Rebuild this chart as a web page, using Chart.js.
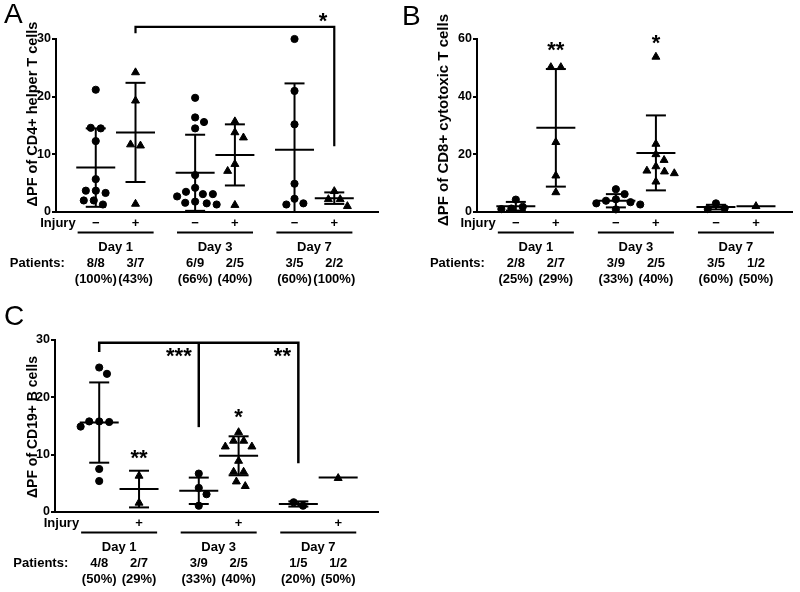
<!DOCTYPE html>
<html><head><meta charset="utf-8">
<script src="https://cdn.jsdelivr.net/npm/chart.js@4.4.1/dist/chart.umd.min.js"></script>
<style>
html,body{margin:0;padding:0;background:#fff;}
#wrap{position:relative;width:800px;height:592px;overflow:hidden;background:#fff;}
canvas{position:absolute;}
</style></head><body>
<div id="wrap">
<canvas id="cA" width="400" height="300" style="left:0;top:0;width:400px;height:300px"></canvas>
<canvas id="cB" width="400" height="300" style="left:400px;top:0;width:400px;height:300px"></canvas>
<canvas id="cC" width="400" height="292" style="left:0;top:300px;width:400px;height:292px"></canvas>
</div>
<script>
// ---------- categories ----------
const days = ['Day 1', 'Day 3', 'Day 7'];
const injurySigns = ['−', '+'];

// ---------- Panel A: CD4+ helper T cells ----------
const cd4Title = 'ΔPF of CD4+ helper T cells';
const cd4Ticks = [0, 10, 20, 30];
const cd4Day1Neg = [21.2, 14.6, 14.5, 12.3, 5.7, 3.7, 3.7, 3.3, 2.0, 2.0, 1.3];
const cd4Day1Pos = [24.2, 19.3, 11.7, 11.5, 1.4];
const cd4Day3Neg = [19.8, 16.4, 15.6, 14.5, 6.4, 4.2, 3.5, 3.1, 3.1, 2.7, 1.8, 1.6, 1.5, 1.3];
const cd4Day3Pos = [15.7, 13.8, 12.9, 8.3, 7.1, 1.2];
const cd4Day7Neg = [30.0, 21.0, 15.2, 4.9, 2.3, 1.5, 1.3];
const cd4Day7Pos = [3.6, 2.2, 2.2, 1.0];
const cd4Mean = [7.7, 13.8, 6.8, 9.9, 10.8, 2.4];
const cd4SD = [6.8, 8.6, 6.6, 5.3, 11.5, 1.0];
const cd4Patients = ['8/8', '3/7', '6/9', '2/5', '3/5', '2/2'];
const cd4Percent = ['(100%)', '(43%)', '(66%)', '(40%)', '(60%)', '(100%)'];

// ---------- Panel B: CD8+ cytotoxic T cells ----------
const cd8Title = 'ΔPF of CD8+ cytotoxic T cells';
const cd8Ticks = [0, 20, 40, 60];
const cd8Day1Neg = [4.3, 1.8, 1.2, 1.0];
const cd8Day1Pos = [50.2, 50.2, 24.2, 12.6, 6.8];
const cd8Day3Neg = [7.9, 6.2, 4.4, 3.9, 3.4, 3.0, 2.6, 0.9];
const cd8Day3Pos = [53.8, 23.6, 20.0, 18.0, 15.8, 14.3, 14.0, 13.4, 10.5];
const cd8Day7Neg = [3.0, 1.3, 1.0];
const cd8Day7Pos = [2.0];
const cd8Mean = [2.0, 29.2, 3.9, 20.5, 1.7, 2.0];
const cd8SD = [1.5, 20.4, 2.3, 13.0, 0.8, 0];
const cd8Patients = ['2/8', '2/7', '3/9', '2/5', '3/5', '1/2'];
const cd8Percent = ['(25%)', '(29%)', '(33%)', '(40%)', '(60%)', '(50%)'];

// ---------- Panel C: CD19+ B cells ----------
const cd19Title = 'ΔPF of CD19+ B cells';
const cd19Ticks = [0, 10, 20, 30];
const cd19Day1Neg = [25.2, 24.1, 15.8, 15.8, 15.7, 14.9, 7.5, 5.4];
const cd19Day1Pos = [6.3, 1.6];
const cd19Day3Neg = [6.7, 4.2, 3.1, 1.1];
const cd19Day3Pos = [13.9, 12.4, 12.4, 11.4, 11.4, 8.9, 7.0, 7.0, 5.3, 4.5];
const cd19Day7Neg = [1.7, 1.1];
const cd19Day7Pos = [5.9];
const cd19Mean = [15.6, 4.0, 3.7, 9.8, 1.4, 6.0];
const cd19SD = [7.0, 3.2, 2.3, 3.4, 0.45, 0];
const cd19Patients = ['4/8', '2/7', '3/9', '2/5', '1/5', '1/2'];
const cd19Percent = ['(50%)', '(29%)', '(33%)', '(40%)', '(20%)', '(50%)'];

// ---------- layout ----------
const catPos = [0, 1, 2.5, 3.5, 5, 6];
const FONT = '"Liberation Sans", Arial, Helvetica, sans-serif';
Chart.defaults.font.family = FONT;
Chart.defaults.color = '#000';

const panels = [
  { canvas: 'cA', letter: 'A', letterX: 4, letterY: 23, W: 400, H: 300, L: 56, R: 378, T: 39, B: 212,
    xMin: -1.0, xMax: 7.1, yMax: 30, ticks: cd4Ticks,
    title: cd4Title, titleX: 33, titleY: 114, titleSize: 14.5,
    groups: [cd4Day1Neg, cd4Day1Pos, cd4Day3Neg, cd4Day3Pos, cd4Day7Neg, cd4Day7Pos],
    means: cd4Mean, sds: cd4SD, patients: cd4Patients, percent: cd4Percent,
    signs: [injurySigns[0], injurySigns[1], injurySigns[0], injurySigns[1], injurySigns[0], injurySigns[1]],
    bracketWidth: 2.2,
    brackets: [[[1, 31.0], [1, 32.1], [6, 32.1], [6, 11.4]]],
    stars: [['*', 5.72, 33.7]] },
  { canvas: 'cB', letter: 'B', letterX: 2, letterY: 25, W: 400, H: 300, L: 77, R: 392, T: 39, B: 212,
    xMin: -0.97, xMax: 6.9, yMax: 60, ticks: cd8Ticks,
    title: cd8Title, titleX: 44, titleY: 120, titleSize: 15,
    groups: [cd8Day1Neg, cd8Day1Pos, cd8Day3Neg, cd8Day3Pos, cd8Day7Neg, cd8Day7Pos],
    means: cd8Mean, sds: cd8SD, patients: cd8Patients, percent: cd8Percent,
    signs: [injurySigns[0], injurySigns[1], injurySigns[0], injurySigns[1], injurySigns[0], injurySigns[1]],
    bracketWidth: 2.2,
    brackets: [],
    stars: [['**', 1, 57.3], ['*', 3.5, 60.0]] },
  { canvas: 'cC', letter: 'C', letterX: 4, letterY: 25, W: 400, H: 292, L: 55, R: 378, T: 40, B: 212,
    xMin: -1.11, xMax: 7.0, yMax: 30, ticks: cd19Ticks,
    title: cd19Title, titleX: 33, titleY: 127, titleSize: 14,
    groups: [cd19Day1Neg, cd19Day1Pos, cd19Day3Neg, cd19Day3Pos, cd19Day7Neg, cd19Day7Pos],
    means: cd19Mean, sds: cd19SD, patients: cd19Patients, percent: cd19Percent,
    signs: ['', injurySigns[1], '', injurySigns[1], '', injurySigns[1]],
    bracketWidth: 2.5,
    brackets: [[[0, 27.9], [0, 29.5], [5, 29.5], [5, 8.5]], [[2.5, 29.5], [2.5, 14.8]]],
    stars: [['***', 2.0, 27.8], ['**', 4.6, 27.8], ['**', 1, 10.1], ['*', 3.5, 17.1]] }
];

// beeswarm: horizontal offsets (px) so that markers do not overlap
function swarm(ys, D) {
  const xs = new Array(ys.length).fill(0);
  const order = ys.map((y, i) => i).sort((a, b) => ys[a] - ys[b]);
  const placed = [];
  for (const i of order) {
    const y = ys[i];
    const ints = [];
    for (const j of placed) {
      const dy = Math.abs(ys[j] - y);
      if (dy < D) { const w = Math.sqrt(D * D - dy * dy); ints.push([xs[j] - w, xs[j] + w]); }
    }
    const sum = placed.reduce((s, j) => s + xs[j], 0);
    const cands = [0];
    ints.forEach(([a, b]) => cands.push(a, b));
    cands.sort((u, v) => (Math.abs(u) - Math.abs(v)) || (sum > 0 ? u - v : v - u));
    const best = cands.find(c => ints.every(([a, b]) => c <= a + 1e-6 || c >= b - 1e-6));
    xs[i] = best === undefined ? 0 : best;
    placed.push(i);
  }
  // recentre tight rows
  const seen = new Set();
  for (const i of order) {
    if (seen.has(i)) continue;
    const row = order.filter(j => !seen.has(j) && Math.abs(ys[j] - ys[i]) < D * 0.5);
    row.forEach(j => seen.add(j));
    if (row.length < 2) continue;
    const mean = row.reduce((s, j) => s + xs[j], 0) / row.length;
    const trial = xs.slice();
    row.forEach(j => trial[j] -= mean);
    const ok = row.every(j => ys.every((y2, k) => row.includes(k) ||
      Math.hypot(trial[j] - trial[k], ys[j] - y2) >= D - 0.01));
    if (ok) row.forEach(j => xs[j] = trial[j]);
  }
  return xs;
}

function makeDecor(P) {
  return {
    id: 'decor' + P.letter,
    afterDatasetsDraw(chart) {
      const ctx = chart.ctx, xs = chart.scales.x, ys = chart.scales.y, ca = chart.chartArea;
      const X = v => xs.getPixelForValue(v), Y = v => ys.getPixelForValue(v);
      const line = (x1, y1, x2, y2) => { ctx.beginPath(); ctx.moveTo(x1, y1); ctx.lineTo(x2, y2); ctx.stroke(); };
      ctx.save();
      ctx.strokeStyle = '#000'; ctx.fillStyle = '#000'; ctx.lineWidth = 2; ctx.lineCap = 'butt';
      // mean ± SD
      P.means.forEach((m, i) => {
        const cx = X(catPos[i]), sd = P.sds[i], ym = Y(m);
        line(cx - 19.5, ym, cx + 19.5, ym);
        if (sd > 0) {
          const yt = Y(m + sd);
          const lo = m - sd;
          const yb = lo > 0 ? Y(lo) : ca.bottom;
          line(cx, yt, cx, yb);
          line(cx - 10, yt, cx + 10, yt);
          if (lo > 0) line(cx - 10, yb, cx + 10, yb);
        }
      });
      // brackets
      ctx.lineWidth = P.bracketWidth; ctx.lineJoin = 'miter';
      P.brackets.forEach(pts => {
        ctx.beginPath();
        pts.forEach(([cx, v], k) => { const px = X(cx), py = Y(v); if (k) ctx.lineTo(px, py); else ctx.moveTo(px, py); });
        ctx.stroke();
      });
      // significance stars (glyph-centred)
      ctx.font = 'bold 22px ' + FONT; ctx.textAlign = 'center'; ctx.textBaseline = 'alphabetic';
      P.stars.forEach(([s, cx, v]) => {
        const m = ctx.measureText(s);
        const yc = Y(v);
        const yb = yc + (m.actualBoundingBoxAscent - m.actualBoundingBoxDescent) / 2;
        ctx.fillText(s, X(cx), yb);
      });
      // rows under the axis
      const b = ca.bottom;
      ctx.font = 'bold 13px ' + FONT; ctx.textBaseline = 'middle'; ctx.lineWidth = 2;
      const p0 = X(catPos[0]);
      for (let d = 0; d < 3; d++) {
        const c = (X(catPos[2 * d]) + X(catPos[2 * d + 1])) / 2;
        line(c - 38, b + 20.5, c + 38, b + 20.5);
        ctx.textAlign = 'center';
        ctx.fillText(days[d], c, b + 35.5);
        if (d === 0) { ctx.textAlign = 'right'; ctx.fillText('Injury', c - 40, b + 11); }
      }
      ctx.textAlign = 'center';
      P.signs.forEach((s, i) => { if (s) ctx.fillText(s, X(catPos[i]), b + 11); });
      ctx.textAlign = 'right';
      ctx.fillText('Patients:', p0 - 31, b + 51);
      ctx.textAlign = 'center';
      P.patients.forEach((s, i) => ctx.fillText(s, X(catPos[i]), b + 51));
      P.percent.forEach((s, i) => ctx.fillText(s, X(catPos[i]), b + 67.5));
      // y-axis title
      ctx.save();
      ctx.translate(P.titleX, P.titleY); ctx.rotate(-Math.PI / 2);
      ctx.font = 'bold ' + P.titleSize + 'px ' + FONT; ctx.textAlign = 'center'; ctx.textBaseline = 'middle';
      ctx.fillText(P.title, 0, 0);
      ctx.restore();
      // panel letter
      ctx.font = '28px ' + FONT; ctx.textAlign = 'left'; ctx.textBaseline = 'alphabetic';
      ctx.fillText(P.letter, P.letterX, P.letterY);
      ctx.restore();
    }
  };
}

panels.forEach(P => {
  const mk = (g) => P.groups[g].map(v => ({ x: catPos[g], y: v }));
  const neg = [].concat(mk(0), mk(2), mk(4));
  const pos = [].concat(mk(1), mk(3), mk(5));
  const chart = new Chart(document.getElementById(P.canvas), {
    type: 'scatter',
    data: {
      datasets: [
        { label: 'Injury −', data: neg, pointStyle: 'circle', pointRadius: 3.6, pointHoverRadius: 3.6,
          backgroundColor: '#000', borderColor: '#000', borderWidth: 1, clip: false },
        { label: 'Injury +', data: pos, pointStyle: 'triangle', pointRadius: 4.6, pointHoverRadius: 4.6,
          backgroundColor: '#000', borderColor: '#000', borderWidth: 1, clip: false }
      ]
    },
    options: {
      responsive: false, animation: false, events: [],
      layout: { padding: { left: 0, top: P.T, right: P.W - P.R, bottom: 0 } },
      plugins: { legend: { display: false }, tooltip: { enabled: false }, title: { display: false } },
      scales: {
        x: { type: 'linear', min: P.xMin, max: P.xMax,
             grid: { display: false, drawTicks: false }, ticks: { display: false },
             border: { display: true, color: '#000', width: 2 },
             afterFit: s => { s.height = P.H - P.B; } },
        y: { type: 'linear', min: 0, max: P.yMax,
             afterBuildTicks: s => { s.ticks = P.ticks.map(v => ({ value: v })); },
             ticks: { font: { weight: 'bold', size: 12.5, family: FONT }, color: '#000', padding: 1 },
             grid: { display: true, drawOnChartArea: false, drawTicks: true, tickLength: 4, color: '#000', lineWidth: 2 },
             border: { display: true, color: '#000', width: 2 },
             afterFit: s => { s.width = P.L; } }
      }
    },
    plugins: [makeDecor(P)]
  });
  // spread overlapping markers horizontally (beeswarm), using the chart's own scales
  const xsc = chart.scales.x, ysc = chart.scales.y;
  const pxPerUnit = xsc.getPixelForValue(1) - xsc.getPixelForValue(0);
  let ni = 0, pi = 0;
  for (let g = 0; g < 6; g++) {
    const offs = swarm(P.groups[g].map(v => ysc.getPixelForValue(v)), 10);
    offs.forEach(o => {
      if (g % 2 === 0) { neg[ni].x = catPos[g] + o / pxPerUnit; ni++; }
      else { pos[pi].x = catPos[g] + o / pxPerUnit; pi++; }
    });
  }
  chart.update('none');
});
</script>
</body></html>
